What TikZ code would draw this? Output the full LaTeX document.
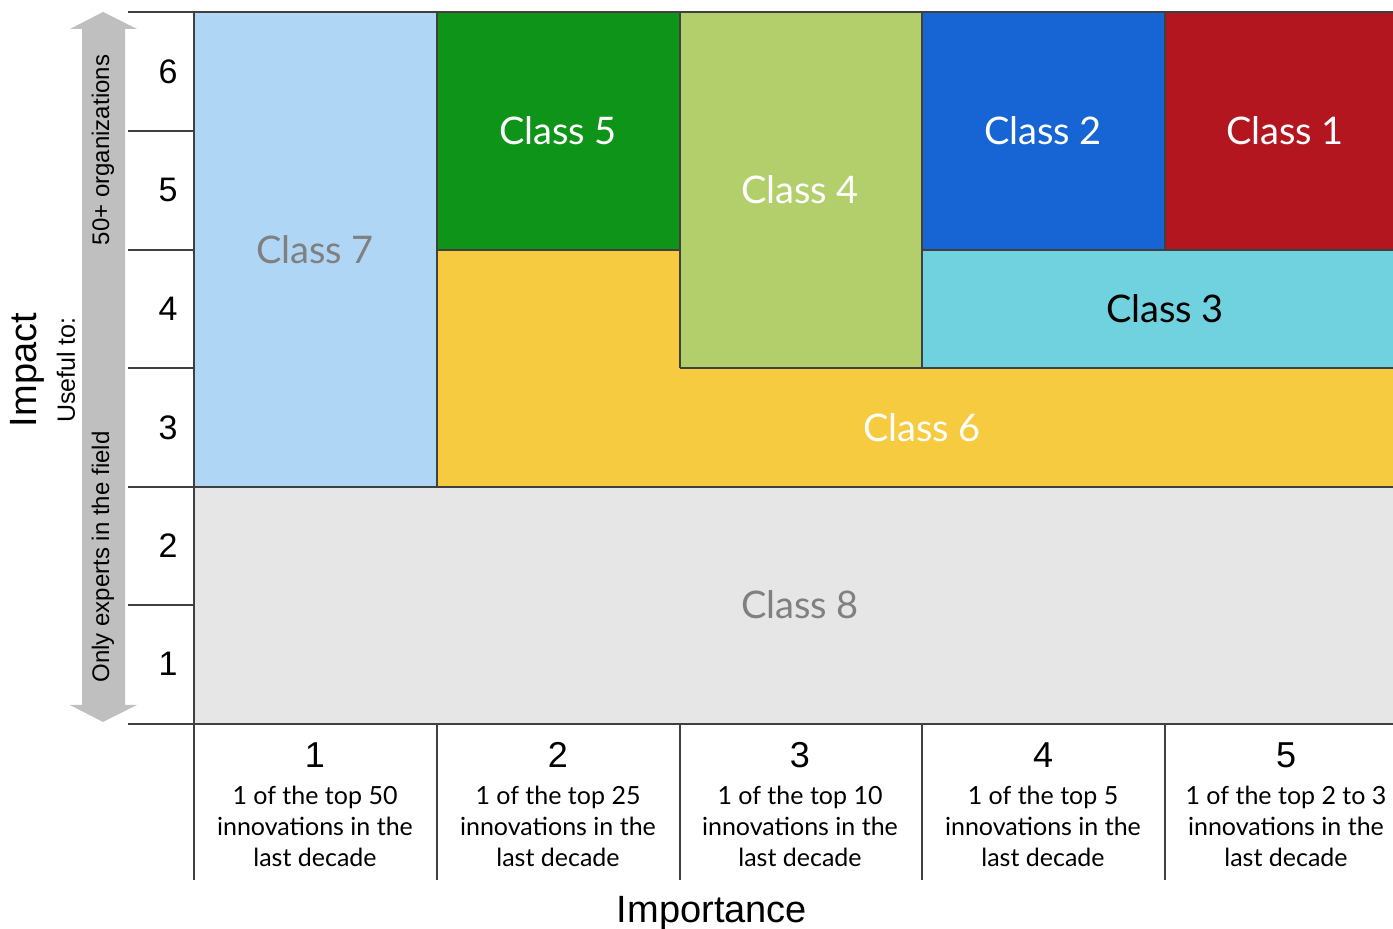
\documentclass[tikz,border=0pt]{standalone}
\usepackage{fontspec}
\setmainfont{Liberation Sans}
\newfontfamily\lab{Lato}
\begin{document}
\begin{tikzpicture}[x=0.5pt,y=-0.5pt,
  grid/.style={draw=black!75,line width=0.7pt},
  cls/.style={font=\lab\fontsize{19}{22}\selectfont},
  rownum/.style={font=\fontsize{17}{20}\selectfont},
  colnum/.style={font=\fontsize{18}{20}\selectfont},
  desc/.style={font=\lab\fontsize{12.5}{15.5}\selectfont,align=center},
  axis/.style={font=\fontsize{12}{14}\selectfont,rotate=90}]
\definecolor{c7}{HTML}{B0D6F5}
\definecolor{c5}{HTML}{0E9419}
\definecolor{c4}{HTML}{B3CF6B}
\definecolor{c2}{HTML}{1764D4}
\definecolor{c1}{HTML}{B4161F}
\definecolor{c3}{HTML}{6FD2DE}
\definecolor{c6}{HTML}{F7CB40}
\definecolor{c8}{HTML}{E6E6E6}
\definecolor{arrg}{HTML}{BFBFBF}
\useasboundingbox (0,0) rectangle (1393,929);
\clip (0,0) rectangle (1393,929);
\fill[white] (0,0) rectangle (1393,929);
% class regions
\fill[c7] (194,12) rectangle (437,487);
\fill[c5] (437,12) rectangle (680,250);
\fill[c4] (680,12) rectangle (922,368);
\fill[c2] (922,12) rectangle (1165,250);
\fill[c1] (1165,12) rectangle (1408,250);
\fill[c3] (922,250) rectangle (1408,368);
\fill[c6] (437,250) -- (680,250) -- (680,368) -- (1408,368) -- (1408,487) -- (437,487) -- cycle;
\fill[c8] (194,487) rectangle (1408,724);
% region borders
\draw[grid] (194,12) -- (194,880);
\draw[grid] (437,12) -- (437,487);
\draw[grid] (680,12) -- (680,368);
\draw[grid] (922,12) -- (922,368);
\draw[grid] (1165,12) -- (1165,250);
\draw[grid] (437,250) -- (680,250);
\draw[grid] (922,250) -- (1408,250);
\draw[grid] (680,368) -- (1408,368);
\draw[grid] (194,487) -- (1408,487);
\draw[grid] (128,12) -- (1408,12);
\draw[grid] (128,724) -- (1408,724);
\foreach \y in {131,250,368,487,605} \draw[grid] (128,\y) -- (194,\y);
\foreach \x in {437,680,922,1165} \draw[grid] (\x,724) -- (\x,880);
% arrow
\fill[arrg] (103,12) -- (137,29) -- (125,29) -- (125,705) -- (137,705) -- (103,722) -- (70,705) -- (82,705) -- (82,29) -- (70,29) -- cycle;
% class labels
\node[cls,text=black!50] (l7) at (315,250) {Class 7};
\node[cls,text=white] (l5) at (558,131) {Class 5};
\node[cls,text=white] (l4) at (800,190) {Class 4};
\node[cls,text=white] (l2) at (1043,131) {Class 2};
\node[cls,text=white] (l1) at (1285,131) {Class 1};
\node[cls,text=black] (l3) at (1165,309) {Class 3};
\node[cls,text=white] (l6) at (922,428) {Class 6};
\node[cls,text=black!50] (l8) at (800,605) {Class 8};
% row numbers
\node[rownum] (r6) at (168,72) {6};
\node[rownum] (r5) at (168,190) {5};
\node[rownum] (r4) at (168,309) {4};
\node[rownum] (r3) at (168,428) {3};
\node[rownum] (r2) at (168,546) {2};
\node[rownum] (r1) at (168,664) {1};
% column numbers and descriptions
\node[colnum] (n1) at (315,755) {1};
\node[colnum] (n2) at (558,755) {2};
\node[colnum] (n3) at (800,755) {3};
\node[colnum] (n4) at (1043,755) {4};
\node[colnum] (n5) at (1286,755) {5};
\node[desc] (d1) at (315,826) {1 of the top 50\\innovations in the\\last decade};
\node[desc] (d2) at (558,826) {1 of the top 25\\innovations in the\\last decade};
\node[desc] (d3) at (800,826) {1 of the top 10\\innovations in the\\last decade};
\node[desc] (d4) at (1043,826) {1 of the top 5\\innovations in the\\last decade};
\node[desc] (d5) at (1286,826) {1 of the top 2 to 3\\innovations in the\\last decade};
% axis titles
\node[font=\fontsize{19}{22}\selectfont] (imp) at (712,913) {Importance};
\node[font=\fontsize{19}{22}\selectfont,rotate=90] (impact) at (27,370) {Impact};
\node[axis,font=\fontsize{12.5}{14}\selectfont] (useful) at (66,370) {Useful to:};
\node[axis] (org) at (103,150) {50+ organizations};
\node[axis] (exp) at (103,557) {Only experts in the field};
\end{tikzpicture}
\end{document}
